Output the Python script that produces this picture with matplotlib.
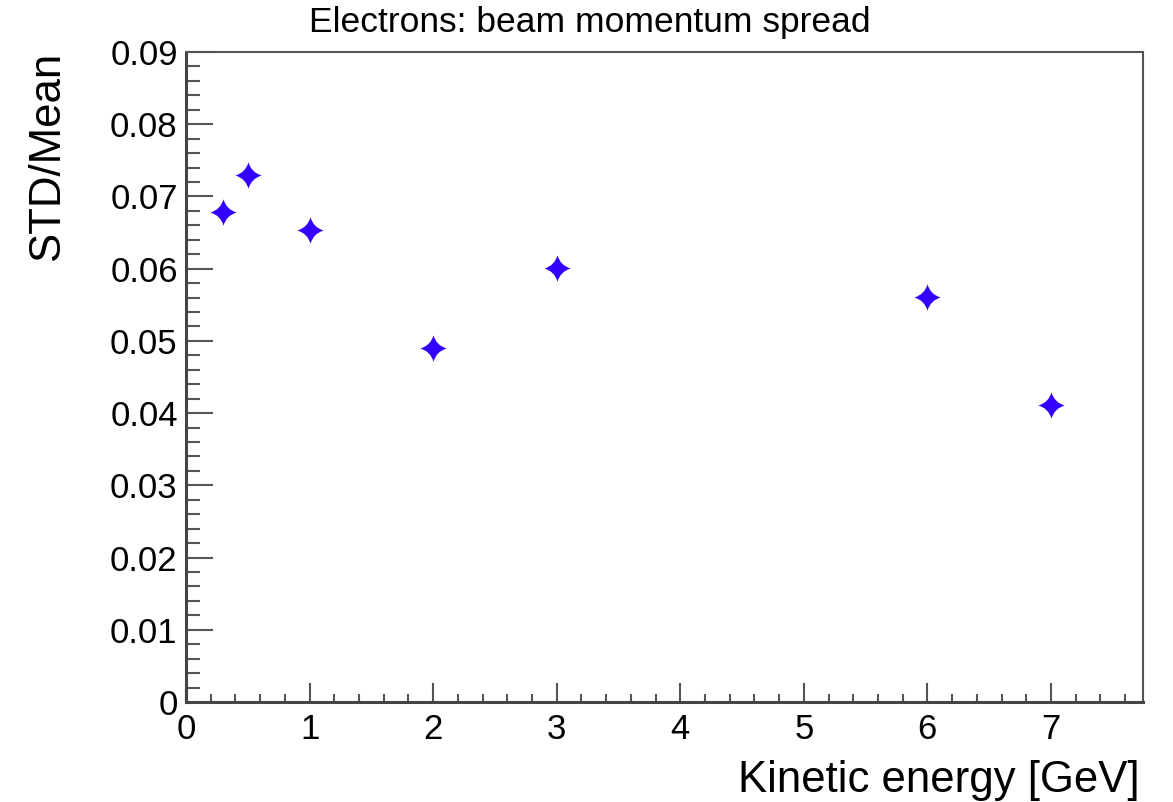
"""Electron beam momentum spread (STD/Mean) vs kinetic energy, ROOT-like look."""

import matplotlib
matplotlib.use("Agg")
import matplotlib.pyplot as plt
from matplotlib.path import Path
from matplotlib.ticker import MultipleLocator

plt.rcParams["font.family"] = ["Liberation Sans", "DejaVu Sans"]

# values
energy_gev = [0.3, 0.5, 1, 2, 3, 6, 7]
std_over_mean = [0.0678, 0.0729, 0.0653, 0.0490, 0.0601, 0.0561, 0.0411]

TITLE = "Electrons: beam momentum spread"
XLABEL = "Kinetic energy [GeV]"
YLABEL = "STD/Mean"

# four-pointed star with concave sides (ROOT marker lookalike)
c = 0.22
star_verts = [(0, 1), (c, c), (1, 0), (c, -c), (0, -1), (-c, -c), (-1, 0), (-c, c), (0, 1), (0, 1)]
star_codes = [Path.MOVETO, Path.CURVE3, Path.CURVE3, Path.CURVE3, Path.CURVE3,
              Path.CURVE3, Path.CURVE3, Path.CURVE3, Path.CURVE3, Path.CLOSEPOLY]
star = Path(star_verts, star_codes)

fig = plt.figure(figsize=(11.73, 8.02), dpi=100)
ax = fig.add_axes([0.1586, 0.1247, 0.8158, 0.8105])

ax.plot(energy_gev, std_over_mean, linestyle="none", marker=star,
        markersize=19, color="#3300ff", markeredgewidth=0)

ax.set_xlim(0, 7.745)
ax.set_ylim(0, 0.09)
ax.xaxis.set_major_locator(MultipleLocator(1))
ax.xaxis.set_minor_locator(MultipleLocator(0.2))
ax.yaxis.set_major_locator(MultipleLocator(0.01))
ax.yaxis.set_minor_locator(MultipleLocator(0.002))
ax.yaxis.set_major_formatter(plt.FuncFormatter(lambda v, p: "0" if abs(v) < 1e-12 else f"{v:.2f}"))

ax.tick_params(axis="both", which="both", direction="in", top=False, right=False,
               color="#555555", labelsize=25)
ax.tick_params(axis="y", which="major", length=19.5, width=1.5, pad=6)
ax.tick_params(axis="y", which="minor", length=10, width=1.5)
ax.tick_params(axis="x", which="major", length=13.5, width=1.5, pad=8)
ax.tick_params(axis="x", which="minor", length=6, width=1.5)

for side in ["left", "bottom"]:
    ax.spines[side].set_linewidth(2.2)
    ax.spines[side].set_color("#444444")
for side in ["top", "right"]:
    ax.spines[side].set_linewidth(1.5)
    ax.spines[side].set_color("#555555")

fig.text(0.503, 0.972, TITLE, ha="center", va="center", fontsize=25.5)
ax.set_xlabel(XLABEL, fontsize=31.5, ha="right", x=0.997, labelpad=10)
ax.set_ylabel(YLABEL, fontsize=31.5, ha="right", y=1.0, labelpad=30)

fig.savefig("out.png", dpi=100)
